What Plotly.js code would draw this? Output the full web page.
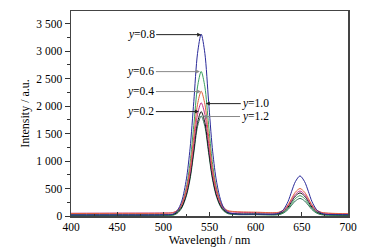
<!DOCTYPE html>
<html>
<head>
<meta charset="utf-8">
<script src="https://cdn.plot.ly/plotly-3.0.1.min.js"></script>
<style>html,body{margin:0;padding:0;background:#fff;}#chart{width:370px;height:251px;}</style>
</head>
<body>
<div id="chart"></div>
<script>
const wavelength = [400,450,500,510,515,520,525,529,533,537,541,545,549,553,557,561,565,570,580,600,620,625,630,635,639,643,648,653,657,661,666,671,676,690,700];

const y02 = [20,20,22,28,64,165,395,715,1200,1700,1900,1702,1205,725,410,220,112,58,40,38,35,42,77,159,264,362,420,362,264,159,77,42,30,22,20];
const y04 = [45,48,50,58,98,218,490,868,1440,2030,2270,2034,1450,885,512,290,162,98,78,70,60,68,108,202,322,433,500,433,322,202,108,68,55,45,40];
const y06 = [5,5,5,15,66,205,528,975,1650,2348,2630,2350,1660,990,548,282,130,55,30,28,22,31,62,136,230,318,370,318,230,136,62,31,20,12,10];
const y08 = [20,20,22,33,95,272,675,1235,2082,2955,3310,2958,2088,1245,690,352,162,66,35,35,33,51,114,261,450,625,730,625,450,261,114,51,30,25,25];
const y10 = [50,52,55,61,97,206,452,795,1312,1845,2060,1847,1318,803,462,258,142,85,68,62,55,62,99,184,293,394,455,394,293,184,99,62,50,42,38];
const y12 = [5,5,6,12,47,146,368,676,1145,1626,1820,1629,1152,688,382,200,95,42,25,24,20,24,52,116,198,274,320,274,198,116,52,24,15,10,8];

const seriesNames = ['y=1.2','y=0.6','y=0.2','y=1.0','y=0.4','y=0.8'];
const seriesValues = [y12, y06, y02, y10, y04, y08];
const seriesColors = ['#2e6e55','#3aa060','#111111','#c0308a','#e0603a','#2a2a9a'];

const xTickVals = [400,450,500,550,600,650,700];
const xTickText = ['400','450','500','550','600','650','700'];
const yTickVals = [0,500,1000,1500,2000,2500,3000,3500];
const yTickText = ['0','500','1 000','1 500','2 000','2 500','3 000','3 500'];

const labelText = ['<i>y</i>=0.8','<i>y</i>=0.6','<i>y</i>=0.4','<i>y</i>=0.2','<i>y</i>=1.0','<i>y</i>=1.2'];
const labelX = [541,539.6,540.7,538.5,546,543];
const labelY = [3300,2627,2264,1900,2045,1810];
const labelAx = [-60,-59,-60,-58,50,52];
const labelLine = ['#222','#888','#888','#222','#222','#888'];

const traces = seriesValues.map((v,i)=>({
  x: wavelength, y: v, type:'scatter', mode:'lines', name: seriesNames[i],
  line:{color: seriesColors[i], width:1, shape:'spline', smoothing:0.8},
  hoverinfo:'skip'
}));

const serif = 'Liberation Serif, Times New Roman, serif';
const annotations = labelText.map((t,i)=>({
  x: labelX[i], y: labelY[i], xref:'x', yref:'y', text: t,
  showarrow:true, ax: labelAx[i], ay:0, arrowhead:2, arrowsize:0.8, arrowwidth:1,
  arrowcolor: labelLine[i], font:{family: serif, size:11.5, color:'#000'}
}));

const layout = {
  width:370, height:251,
  margin:{l:71, r:22, t:11, b:35},
  paper_bgcolor:'#fff', plot_bgcolor:'#fff',
  showlegend:false,
  font:{family: serif, size:11.5, color:'#000'},
  xaxis:{
    range:[400,700], tickvals:xTickVals, ticktext:xTickText,
    tickfont:{family:serif, size:11.5, color:'#000'},
    ticks:'inside', ticklen:4, tickcolor:'#333', tickwidth:1,
    minor:{dtick:25, tick0:400, ticks:'inside', ticklen:2, tickcolor:'#333'},
    showline:true, mirror:true, linecolor:'#444', linewidth:1.5,
    showgrid:false, zeroline:false,
    title:{text:'Wavelength / nm', standoff:3, font:{family:serif, size:12, color:'#000'}}
  },
  yaxis:{
    range:[0,3730], tickvals:yTickVals, ticktext:yTickText,
    tickfont:{family:serif, size:11.5, color:'#000'},
    ticks:'outside', ticklen:5, tickcolor:'#333', tickwidth:1,
    minor:{dtick:250, tick0:0, ticks:'outside', ticklen:3, tickcolor:'#333'},
    showline:true, mirror:true, linecolor:'#444', linewidth:1.5,
    showgrid:false, zeroline:false,
    title:{text:'Intensity / a.u.', standoff:4, font:{family:serif, size:12, color:'#000'}}
  },
  annotations: annotations
};

Plotly.newPlot('chart', traces, layout, {displayModeBar:false, staticPlot:true});
</script>
</body>
</html>
